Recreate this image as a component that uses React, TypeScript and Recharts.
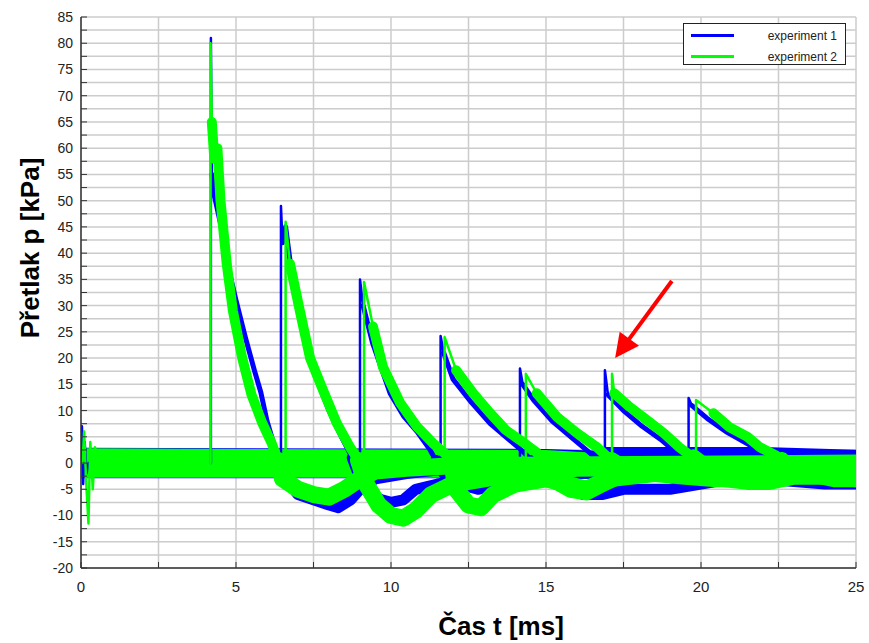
import { Area, CartesianGrid, ComposedChart, Legend, Line, ReferenceLine, XAxis, YAxis } from 'recharts';

type Pt = [number, number];
type Band = [number, number, number];

const xTicks = [0, 2.5, 5, 7.5, 10, 12.5, 15, 17.5, 20, 22.5, 25];
const yTicks = [
  -20, -17.5, -15, -12.5, -10, -7.5, -5, -2.5, 0, 2.5, 5, 7.5, 10, 12.5, 15, 17.5, 20, 22.5, 25, 27.5, 30, 32.5,
  35, 37.5, 40, 42.5, 45, 47.5, 50, 52.5, 55, 57.5, 60, 62.5, 65, 67.5, 70, 72.5, 75, 77.5, 80, 82.5, 85,
];

const BLUE = '#0000ff';
const GREEN = '#00ff00';

// experiment 1 (blue): spike time + peak, then decay / undershoot of each wave
const exp1Spikes: Pt[] = [[4.19, 81], [6.45, 49], [9.0, 35], [11.6, 24.2], [14.16, 18], [16.9, 17.7], [19.6, 12.4]];
const exp1Traces: Pt[][] = [
  [[4.22, 55], [4.3, 51], [4.45, 47], [4.6, 43], [4.8, 36], [5.0, 31], [5.3, 24], [5.6, 17.5], [5.8, 13.5], [6.0, 8], [6.2, 4], [6.35, 1], [6.6, -3], [7.0, -6], [7.5, -7], [8.0, -8], [8.3, -8.5], [8.7, -7], [9.0, -5], [9.5, -3], [10.5, -2], [12, -1], [25, 0]],
  [[6.5, 42], [6.6, 45], [6.8, 36], [7.0, 30], [7.3, 22], [7.6, 16], [8.0, 10], [8.4, 5], [8.75, 1], [9.0, -3], [9.3, -6], [9.7, -7], [10.0, -7.5], [10.4, -7], [10.8, -5], [11.5, -4], [12.5, -3], [14, -2], [16, -1], [25, -0.5]],
  [[9.1, 30], [9.4, 23], [9.97, 13.3], [10.4, 9], [10.84, 6], [11.26, 2.5], [11.45, 0.5], [11.7, -2], [12.2, -4], [12.8, -5], [13.5, -4], [14.5, -3], [16, -2], [25, -1]],
  [[11.7, 21], [12.0, 16], [12.6, 11.5], [13.2, 7.5], [13.7, 5], [14.2, 2.5], [14.55, 0.5], [14.8, -2], [15.5, -4], [16.2, -6], [16.8, -6], [17.5, -5], [19, -5], [20, -4], [21, -3], [22.5, -3], [25, -3.5]],
  [[14.25, 15], [14.6, 12], [15.2, 8], [15.8, 5], [16.3, 2.5], [16.6, 1], [16.8, 2], [22, 2], [25, 1.5]],
  [[17.0, 13], [17.5, 10], [18.1, 7], [18.7, 4.5], [19.2, 2], [19.4, 0.8], [19.8, -1], [21, -2], [22, -3], [23, -3.5], [24, -4], [25, -4]],
  [[19.7, 11], [20.2, 8.5], [20.8, 6], [21.4, 4], [22.0, 2], [22.3, 1], [22.5, 0], [23.5, -1], [25, -2]],
];
const exp1Start: Pt[] = [[0, 0], [0.03, 7], [0.07, -4], [0.12, 4], [0.18, -2], [0.25, 0]];
// baseline noise band: t, low, high
const exp1Band: Band[] = [[0, -2.9, 2.9], [15, -2.9, 2.7], [17, -3, 2.3], [25, -3, 2.3]];

// experiment 2 (green)
const exp2Spikes: Pt[] = [[4.18, 80], [6.6, 46], [9.13, 34.5], [11.73, 24], [14.35, 17], [17.13, 17], [19.84, 12]];
const exp2Traces: Pt[][] = [
  [[4.22, 65], [4.3, 58], [4.4, 60], [4.5, 50], [4.7, 38], [4.9, 29], [5.2, 20], [5.5, 13], [5.85, 7.6], [6.15, 3.8], [6.35, 0.5], [6.5, -3], [7.0, -5], [7.5, -6], [8.0, -6.5], [8.5, -5], [9.0, -3], [9.5, -1.5], [10.5, -1], [12, -0.5], [25, 0]],
  [[6.74, 38], [7.06, 29], [7.39, 20], [7.8, 14], [8.25, 7.6], [8.68, 3], [8.95, 0.5], [9.2, -4], [9.6, -8], [10.0, -10], [10.4, -10.5], [10.8, -9], [11.3, -6], [12, -4], [13, -3], [14, -2], [16, -1], [25, -0.5]],
  [[9.42, 26], [9.74, 18.3], [10.3, 11.4], [10.84, 6.9], [11.35, 3.8], [11.8, 1.5], [11.95, 0.5], [12.1, -5], [12.5, -8], [12.9, -8.5], [13.3, -6], [14, -4], [15, -3], [16.3, -5], [17, -3], [18.5, -2], [20, -1.5], [25, -1]],
  [[12.1, 17.7], [12.65, 13.3], [13.2, 9.5], [13.7, 6.3], [14.3, 3.8], [14.7, 2], [14.9, 0.5], [15.2, -3], [15.8, -5], [16.3, -5.5], [16.8, -4], [17.5, -2], [19, -1], [25, -0.5]],
  [[14.7, 13.3], [15.35, 8.8], [16.0, 5.7], [16.65, 3], [17.1, 0.5], [17.5, -1], [18.5, -2], [19.5, -2.5], [20.5, -3], [22, -3], [23, -2], [25, -1.5]],
  [[17.2, 13.3], [17.7, 10.7], [18.25, 8.2], [18.8, 5.7], [19.3, 3], [19.75, 1], [20.2, -1], [20.8, -3], [21.5, -3.5], [22.2, -3.5], [23, -2.5], [24, -2.5], [25, -3]],
  [[20.4, 9.5], [20.9, 6.9], [21.5, 5], [21.9, 3], [22.4, 1.5], [22.6, 0.5], [22.8, -1], [23.5, -2], [24.3, -3], [25, -3]],
];
const exp2Start: Pt[] = [[0.05, 0], [0.1, 6], [0.17, -4], [0.24, -11.5], [0.3, 4], [0.38, -5], [0.45, 3], [0.55, 0]];
const exp2Band: Band[] = [[0, -2.8, 2.8], [15, -2.8, 2.5], [17, -3, 1.8], [25, -3, 1.8]];

const arrowSegment: Pt[] = [[19.06, 34.7], [17.23, 20]];

const rows = (pts: Pt[]) => pts.map(([t, p]) => ({ t, p }));
const bandRows = (b: Band[]) => b.map(([t, lo, hi]) => ({ t, band: [lo, hi] }));
const spikeRows = (s: Pt, next: Pt) => [{ t: s[0], p: 0 }, { t: s[0], p: s[1] }, { t: next[0], p: next[1] }];
// split a trace where the decay reaches the baseline
const splitAt = (tr: Pt[]) => {
  const i = tr.findIndex(([, p]) => p <= 1);
  return [tr.slice(0, i + 1), tr.slice(i)];
};

const FONT = '"Liberation Sans", Arial, sans-serif';

function Arrow(props: any) {
  const { x1, y1, x2, y2 } = props;
  const dx = x2 - x1;
  const dy = y2 - y1;
  const len = Math.sqrt(dx * dx + dy * dy);
  const ux = dx / len;
  const uy = dy / len;
  const head = 24;
  const bx = x2 - ux * head;
  const by = y2 - uy * head;
  const w = 12;
  return (
    <g>
      <line x1={x1} y1={y1} x2={bx + ux * 2} y2={by + uy * 2} stroke="#ff0000" strokeWidth={4} />
      <polygon points={`${x2},${y2} ${bx - uy * w},${by + ux * w} ${bx + uy * w},${by - ux * w}`} fill="#ff0000" />
    </g>
  );
}

function LegendBox() {
  const row = (color: string, label: string) => (
    <div style={{ display: 'flex', alignItems: 'center', height: 21 }}>
      <div style={{ width: 43, height: 3, background: color, marginLeft: 7 }} />
      <div style={{ flex: 1, textAlign: 'right', paddingRight: 8, fontSize: 12, fontFamily: FONT, color: '#222' }}>
        {label}
      </div>
    </div>
  );
  return (
    <div style={{ border: '1.5px solid #222', background: '#fff', width: 163, height: 42, paddingTop: 1, boxSizing: 'border-box' }}>
      {row(BLUE, 'experiment 1')}
      {row(GREEN, 'experiment 2')}
    </div>
  );
}

const lineProps = {
  type: 'linear' as const,
  dataKey: 'p',
  dot: false,
  isAnimationActive: false,
  legendType: 'none' as const,
  strokeLinejoin: 'round' as const,
  strokeLinecap: 'round' as const,
};

const fmt = (v: number) => (v % 5 === 0 ? String(v) : '');

function Experiment(color: string, band: Band[], start: Pt[], traces: Pt[][], spikes: Pt[], decayW: number, troughW: number, key: string) {
  return [
    <Area key={`${key}band`} data={bandRows(band)} dataKey="band" type="linear" stroke="none" fill={color} fillOpacity={1} isAnimationActive={false} legendType="none" />,
    <Line key={`${key}start`} {...lineProps} data={rows(start)} stroke={color} strokeWidth={2.5} />,
    ...traces.map((tr, i) => (
      <Line key={`${key}t${i}`} {...lineProps} data={rows(splitAt(tr)[1])} stroke={color} strokeWidth={troughW} />
    )),
    ...traces.map((tr, i) => (
      <Line key={`${key}d${i}`} {...lineProps} data={rows(splitAt(tr)[0])} stroke={color} strokeWidth={decayW} />
    )),
    ...spikes.map((s, i) => (
      <Line key={`${key}s${i}`} {...lineProps} data={spikeRows(s, traces[i][0])} stroke={color} strokeWidth={2.5} />
    )),
  ];
}

export default function App() {
  return (
    <div style={{ position: 'absolute', left: 0, top: 0, width: 869, height: 643, background: '#fff' }}>
      <ComposedChart width={869} height={643} margin={{ top: 17, right: 13, bottom: 45, left: 0 }}>
        <CartesianGrid stroke="#cccccc" strokeWidth={1.5} />
        <XAxis
          type="number"
          dataKey="t"
          domain={[0, 25]}
          ticks={xTicks}
          tickFormatter={fmt}
          height={30}
          tickSize={-6}
          tickMargin={19}
          axisLine={{ stroke: '#333', strokeWidth: 1.5 }}
          tickLine={{ stroke: '#333' }}
          tick={{ fill: '#222', fontSize: 15, fontFamily: FONT }}
          allowDataOverflow
        />
        <XAxis
          xAxisId="top"
          orientation="top"
          type="number"
          dataKey="t"
          domain={[0, 25]}
          ticks={xTicks}
          height={0}
          mirror
          tickSize={6}
          tick={false}
          axisLine={{ stroke: '#333', strokeWidth: 1.5 }}
          tickLine={{ stroke: '#333' }}
        />
        <YAxis
          type="number"
          domain={[-20, 85]}
          ticks={yTicks}
          tickFormatter={fmt}
          width={81}
          tickSize={-6}
          tickMargin={14}
          interval={0}
          axisLine={{ stroke: '#333', strokeWidth: 1.5 }}
          tickLine={{ stroke: '#333' }}
          tick={{ fill: '#222', fontSize: 14, fontFamily: FONT }}
          allowDataOverflow
        />
        <YAxis
          yAxisId="right"
          orientation="right"
          type="number"
          domain={[-20, 85]}
          ticks={yTicks}
          width={0}
          mirror
          tickSize={6}
          tick={false}
          interval={0}
          axisLine={{ stroke: '#333', strokeWidth: 1.5 }}
          tickLine={{ stroke: '#333' }}
        />

        {Experiment(BLUE, exp1Band, exp1Start, exp1Traces, exp1Spikes, 5, 11, 'b')}
        {Experiment(GREEN, exp2Band, exp2Start, exp2Traces, exp2Spikes, 10, 17, 'g')}

        <ReferenceLine
          segment={[
            { x: arrowSegment[0][0], y: arrowSegment[0][1] },
            { x: arrowSegment[1][0], y: arrowSegment[1][1] },
          ]}
          shape={Arrow}
          ifOverflow="visible"
        />
        <Legend
          layout="vertical"
          align="center"
          verticalAlign="middle"
          wrapperStyle={{ left: 683, top: 23, width: 165, height: 44 }}
          content={() => <LegendBox />}
        />
      </ComposedChart>
      <div
        style={{
          position: 'absolute',
          left: 30,
          top: 248,
          transform: 'translate(-50%, -50%) rotate(-90deg)',
          fontFamily: FONT,
          fontWeight: 'bold',
          fontSize: 26,
          whiteSpace: 'nowrap',
          color: '#000',
        }}
      >
        Přetlak p [kPa]
      </div>
      <div
        style={{
          position: 'absolute',
          left: 501,
          top: 626,
          transform: 'translate(-50%, -50%)',
          fontFamily: FONT,
          fontWeight: 'bold',
          fontSize: 26,
          whiteSpace: 'nowrap',
          color: '#000',
        }}
      >
        Čas t [ms]
      </div>
    </div>
  );
}
